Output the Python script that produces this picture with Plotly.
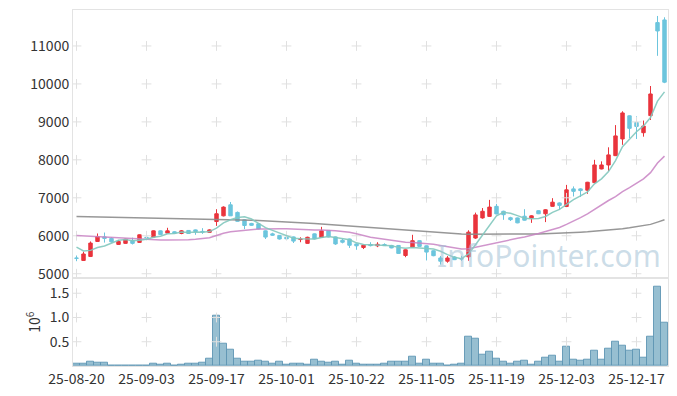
import plotly.graph_objects as go
from plotly.subplots import make_subplots

dates = [
    "25-08-20", "25-08-21", "25-08-22", "25-08-25", "25-08-26", "25-08-27", "25-08-28", "25-08-29",
    "25-09-01", "25-09-02", "25-09-03", "25-09-04", "25-09-05", "25-09-08", "25-09-09", "25-09-10",
    "25-09-11", "25-09-12", "25-09-15", "25-09-16", "25-09-17", "25-09-18", "25-09-19", "25-09-22",
    "25-09-23", "25-09-24", "25-09-25", "25-09-26", "25-09-29", "25-09-30", "25-10-01", "25-10-02",
    "25-10-10", "25-10-13", "25-10-14", "25-10-15", "25-10-16", "25-10-17", "25-10-20", "25-10-21",
    "25-10-22", "25-10-23", "25-10-24", "25-10-27", "25-10-28", "25-10-29", "25-10-30", "25-10-31",
    "25-11-03", "25-11-04", "25-11-05", "25-11-06", "25-11-07", "25-11-10", "25-11-11", "25-11-12",
    "25-11-13", "25-11-14", "25-11-17", "25-11-18", "25-11-19", "25-11-20", "25-11-21", "25-11-24",
    "25-11-25", "25-11-26", "25-11-27", "25-11-28", "25-12-01", "25-12-02", "25-12-03", "25-12-04",
    "25-12-05", "25-12-08", "25-12-09", "25-12-10", "25-12-11", "25-12-12", "25-12-15", "25-12-16",
    "25-12-17", "25-12-18", "25-12-19", "25-12-22", "25-12-23",
]

opens = [5415, 5350, 5455, 5850, 5970, 5930, 5772, 5800, 5870, 5825,
         5960, 5965, 6130, 6070, 6105, 6060, 6140, 6155, 6115, 6090,
         6375, 6525, 6815, 6615, 6420, 6325, 6315, 6130, 6050, 6010,
         5960, 5970, 5900, 5800, 6050, 5955, 6140, 5970, 5880, 5915,
         5785, 5690, 5770, 5735, 5770, 5745, 5745, 5480, 5700, 5870,
         5735, 5605, 5415, 5330, 5440, 5400, 5445, 5940, 6470, 6510,
         6775, 6645, 6475, 6470, 6515, 6460, 6660, 6580, 6775, 6865,
         6770, 7235, 7235, 7200, 7400, 7760, 7865, 8110, 8550, 9160,
         8985, 8715, 9165, 11615, 11685]
highs = [5480, 5580, 5850, 6060, 6085, 5960, 5890, 5920, 5950, 6035,
         6060, 6140, 6140, 6210, 6120, 6150, 6150, 6165, 6200, 6170,
         6700, 6775, 6890, 6640, 6430, 6340, 6320, 6140, 6080, 6020,
         5975, 5980, 5960, 5975, 6060, 6235, 6150, 5980, 5920, 5925,
         5800, 5770, 5830, 5830, 5800, 5760, 5755, 5640, 6025, 5880,
         5745, 5615, 5465, 5465, 5460, 5470, 6145, 6610, 6730, 6945,
         6840, 6660, 6500, 6480, 6700, 6540, 6670, 6700, 6990, 6880,
         7340, 7300, 7250, 7420, 8000, 7960, 8330, 8915, 9280, 9170,
         9145, 9035, 9945, 11790, 11755]
lows = [5330, 5340, 5440, 5840, 5820, 5820, 5760, 5790, 5770, 5815,
        5890, 5955, 6020, 6060, 6050, 6040, 6050, 6025, 6050, 6080,
        6260, 6510, 6520, 6370, 6175, 6260, 6170, 5915, 6000, 5900,
        5905, 5810, 5830, 5790, 5905, 5945, 5960, 5760, 5800, 5680,
        5630, 5650, 5720, 5700, 5730, 5670, 5530, 5435, 5690, 5710,
        5350, 5460, 5240, 5290, 5360, 5340, 5340, 5920, 6450, 6500,
        6565, 6420, 6390, 6330, 6400, 6340, 6570, 6360, 6765, 6685,
        6755, 7035, 7020, 7105, 7390, 7750, 7710, 8100, 8395, 8575,
        8550, 8610, 9050, 10740, 10020]
closes = [5405, 5520, 5807, 5980, 5930, 5840, 5850, 5910, 5800, 6025,
          5950, 6130, 6030, 6130, 6065, 6130, 6060, 6110, 6100, 6155,
          6580, 6755, 6525, 6380, 6270, 6275, 6180, 5965, 6015, 5915,
          5920, 5860, 5910, 5960, 5920, 6130, 5970, 5785, 5830, 5750,
          5735, 5750, 5740, 5775, 5740, 5680, 5535, 5630, 5870, 5720,
          5570, 5475, 5330, 5415, 5370, 5390, 6095, 6550, 6645, 6755,
          6575, 6555, 6425, 6340, 6410, 6525, 6580, 6685, 6885, 6800,
          7210, 7170, 7190, 7410, 7865, 7865, 8130, 8630, 9235, 8830,
          8880, 8890, 9735, 11395, 10045]

ma5 = [5700, 5600, 5615, 5690, 5729, 5815, 5881, 5902, 5866, 5885,
       5907, 5963, 5987, 6053, 6061, 6097, 6083, 6099, 6093, 6111,
       6201, 6340, 6423, 6479, 6502, 6441, 6326, 6214, 6141, 6070,
       5999, 5935, 5924, 5913, 5914, 5956, 5978, 5953, 5927, 5893,
       5814, 5770, 5761, 5750, 5748, 5737, 5694, 5672, 5691, 5687,
       5665, 5653, 5593, 5502, 5432, 5396, 5520, 5764, 6010, 6287,
       6524, 6616, 6591, 6530, 6461, 6451, 6456, 6508, 6617, 6695,
       6832, 6950, 7051, 7156, 7369, 7500, 7692, 7980, 8345, 8538,
       8741, 8893, 9114, 9546, 9789]
ma20 = [6010, 6000, 5990, 5978, 5966, 5953, 5940, 5928, 5916, 5906,
        5898, 5892, 5888, 5886, 5885, 5887, 5893, 5905, 5925, 5947,
        6005, 6067, 6103, 6123, 6140, 6162, 6178, 6181, 6192, 6186,
        6185, 6171, 6165, 6157, 6149, 6149, 6145, 6129, 6115, 6095,
        6053, 6002, 5963, 5933, 5906, 5877, 5844, 5828, 5820, 5811,
        5793, 5774, 5745, 5718, 5690, 5653, 5659, 5698, 5738, 5789,
        5831, 5871, 5905, 5933, 5967, 6009, 6061, 6114, 6165, 6219,
        6301, 6386, 6479, 6578, 6703, 6827, 6929, 7033, 7162, 7266,
        7381, 7498, 7663, 7916, 8098]
ma60 = [6505, 6502, 6500, 6497, 6494, 6490, 6487, 6484, 6481, 6478,
        6475, 6472, 6468, 6464, 6460, 6456, 6452, 6448, 6444, 6440,
        6436, 6432, 6427, 6422, 6416, 6410, 6402, 6394, 6385, 6376,
        6366, 6355, 6344, 6332, 6320, 6307, 6294, 6280, 6266, 6252,
        6238, 6224, 6210, 6196, 6182, 6168, 6154, 6140, 6126, 6112,
        6098, 6085, 6073, 6062, 6053, 6046, 6042, 6040, 6039, 6038,
        6038, 6038, 6039, 6040, 6042, 6045, 6049, 6054, 6060, 6067,
        6075, 6084, 6094, 6105, 6118, 6132, 6148, 6166, 6188, 6212,
        6238, 6266, 6300, 6360, 6420]

volume = [55000, 55000, 89000, 68000, 68000, 14000, 14000, 14000, 14000, 14000,
          14000, 55000, 34000, 55000, 14000, 34000, 55000, 55000, 75000, 157000,
          1036000, 464000, 341000, 157000, 95000, 95000, 116000, 95000, 55000, 95000,
          34000, 55000, 55000, 34000, 136000, 95000, 75000, 89000, 34000, 109000,
          48000, 27000, 27000, 27000, 48000, 89000, 89000, 89000, 191000, 48000,
          130000, 48000, 48000, 7000, 27000, 48000, 600000, 559000, 232000, 293000,
          150000, 89000, 48000, 89000, 109000, 27000, 89000, 170000, 211000, 89000,
          395000, 130000, 109000, 130000, 314000, 130000, 354000, 498000, 416000, 314000,
          334000, 170000, 600000, 1643000, 886000]

price_ticks = [5000, 6000, 7000, 8000, 9000, 10000, 11000]
vol_ticks = [500000, 1000000, 1500000]
vol_tick_text = ["0.5", "1.0", "1.5"]
x_ticks = dates[::10]

RED = "#e9343c"
BLUE = "#6cc5dd"
FONT = "Noto Sans CJK KR, Liberation Sans, sans-serif"

fig = make_subplots(rows=2, cols=1, shared_xaxes=True, vertical_spacing=0,
                    row_heights=[0.752, 0.248])

# grid crosses
gx, gy = [], []
for xv in x_ticks:
    for yv in price_ticks:
        gx.append(xv); gy.append(yv)
fig.add_trace(go.Scatter(x=gx, y=gy, mode="markers", hoverinfo="skip",
                         marker=dict(symbol="cross-thin", size=7,
                                     line=dict(color="#e0e0e0", width=1))),
              row=1, col=1)
vx, vy = [], []
for xv in x_ticks:
    for yv in vol_ticks:
        vx.append(xv); vy.append(yv)
fig.add_trace(go.Scatter(x=vx, y=vy, mode="markers", hoverinfo="skip",
                         marker=dict(symbol="cross-thin", size=7,
                                     line=dict(color="#e0e0e0", width=1))),
              row=2, col=1)

fig.add_trace(go.Candlestick(
    x=dates, open=opens, high=highs, low=lows, close=closes,
    increasing=dict(line=dict(color=RED, width=1), fillcolor=RED),
    decreasing=dict(line=dict(color=BLUE, width=1), fillcolor=BLUE),
    whiskerwidth=0, name="price"), row=1, col=1)

fig.add_trace(go.Scatter(x=dates, y=ma60, mode="lines",
                         line=dict(color="rgba(140,140,140,0.9)", width=1.5)), row=1, col=1)
fig.add_trace(go.Scatter(x=dates, y=ma20, mode="lines",
                         line=dict(color="rgba(200,130,195,0.85)", width=1.5)), row=1, col=1)
fig.add_trace(go.Scatter(x=dates, y=ma5, mode="lines",
                         line=dict(color="rgba(130,200,190,0.9)", width=1.5)), row=1, col=1)

fig.add_trace(go.Bar(x=dates, y=volume,
                     marker=dict(color="rgba(140,184,204,0.9)",
                                 line=dict(color="rgba(95,150,180,0.9)", width=1)),
                     width=1.0), row=2, col=1)

axis_line = dict(showline=True, linecolor="#e3e3e3", linewidth=1, mirror=True,
                 showgrid=False, zeroline=False, automargin=False)

# page body adds an 8px offset; size the figure so the plot area lands at x 73-668, y 10-366
fig.update_layout(
    width=669, height=388,
    margin=dict(l=65, r=9, t=2, b=30),
    paper_bgcolor="white", plot_bgcolor="white",
    showlegend=False, bargap=0,
    font=dict(family=FONT, size=14, color="#333333"),
)
fig.update_xaxes(type="category", categoryorder="array", categoryarray=dates,
                 range=[-0.5, len(dates) - 0.5], **axis_line,
                 rangeslider=dict(visible=False))
fig.update_xaxes(showticklabels=False, ticks="", row=1, col=1)
fig.update_xaxes(tickvals=x_ticks, ticktext=x_ticks, ticks="", tickangle=0,
                 tickfont=dict(size=14, color="#333333"), row=2, col=1)
fig.update_yaxes(range=[4895, 11947], tickvals=price_ticks,
                 ticktext=[str(v) for v in price_ticks], ticks="",
                 tickfont=dict(size=14, color="#333333"), **axis_line, row=1, col=1)
fig.update_yaxes(range=[0, 1820000], tickvals=vol_ticks, ticktext=vol_tick_text,
                 ticks="", tickfont=dict(size=14, color="#333333"),
                 **axis_line, row=2, col=1)

fig.add_annotation(text="10<sup>6</sup>", xref="paper", yref="paper",
                   x=-39 / 595, y=0.124, xanchor="center", yanchor="middle",
                   textangle=-90, showarrow=False,
                   font=dict(size=14, color="#333333"))

fig.add_annotation(text="InfoPointer.com", xref="paper", yref="paper",
                   x=(549 - 73) / 595, y=(366.5 - 256) / 356.5,
                   xanchor="center", yanchor="middle", showarrow=False,
                   font=dict(family="Noto Sans, sans-serif", size=30,
                             color="rgba(160,192,212,0.55)"))

fig.write_html("out.html")
